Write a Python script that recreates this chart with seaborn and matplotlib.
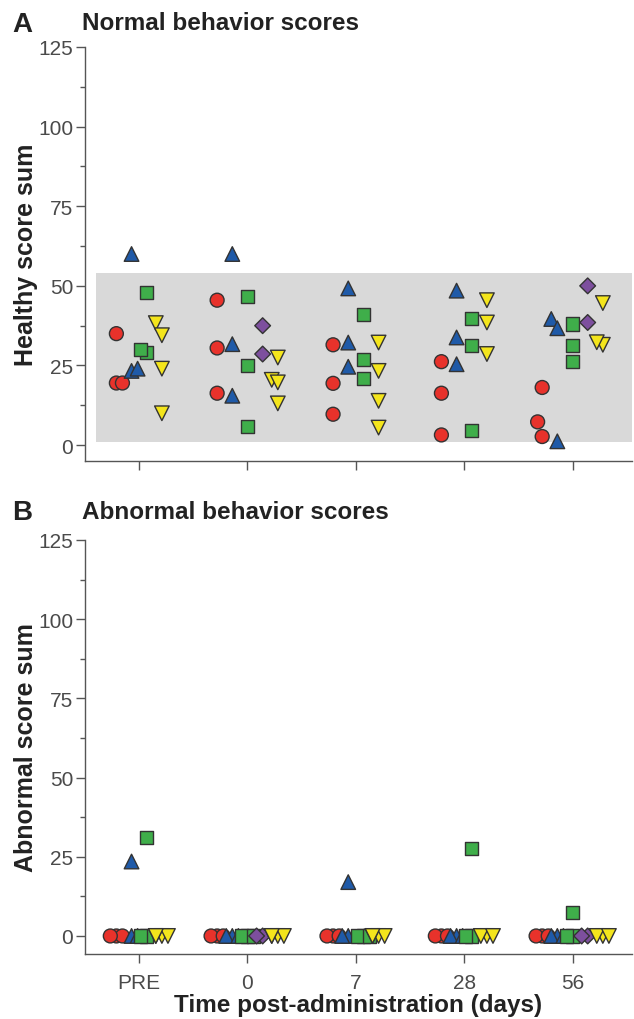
import numpy as np
import pandas as pd
import seaborn as sns
import matplotlib.pyplot as plt
from matplotlib.markers import MarkerStyle
from matplotlib.transforms import Affine2D
from matplotlib.ticker import MultipleLocator

# time points and groups
times = ["PRE", "0", "7", "28", "56"]
groups = ["G1", "G2", "G3", "G4", "G5"]
colors = ["#e8322b", "#1f5aa8", "#3fae4a", "#7d4f9e", "#f4e51c"]
markers = ["o", "^", "s", "D", "v"]
marker_scale = [1.0, 1.05, 0.95, 0.8, 1.05]

# normal behavior scores (per time point)
normal_g1 = [[35, 19.5, 19.5], [45.5, 30.5, 16.3], [31.5, 19.4, 9.7], [26.2, 16.3, 3.2], [18.1, 7.3, 2.7]]
normal_g2 = [[60, 23.3, 24], [60, 31.7, 15.5], [49.2, 32.2, 24.6], [48.5, 33.8, 25.4], [39.6, 36.7, 1.2]]
normal_g3 = [[48, 29, 30], [46.6, 25, 5.9], [41, 26.8, 21], [39.8, 31.2, 4.7], [38, 31.2, 26.2]]
normal_g4 = [[], [37.5, 28.6], [], [], [50, 38.5]]
normal_g5 = [[38.3, 34.5, 24, 10], [27.5, 20.5, 19.7, 13.1], [32.2, 23.3, 13.9, 5.5], [45.5, 38.5, 28.6], [44.6, 31.5, 32.3]]

# abnormal behavior scores
abnormal_g1 = [[0, 0, 0], [0, 0, 0], [0, 0, 0], [0, 0, 0], [0, 0, 0]]
abnormal_g2 = [[23.5, 0, 0], [0, 0, 0], [17, 0, 0], [0, 0, 0], [0, 0, 0]]
abnormal_g3 = [[31, 0, 0], [0, 0, 0], [0, 0, 0], [27.5, 0, 0], [7.5, 0, 0]]
abnormal_g4 = [[], [0, 0], [], [], [0, 0]]
abnormal_g5 = [[0, 0, 0, 0], [0, 0, 0, 0], [0, 0, 0, 0], [0, 0, 0], [0, 0, 0]]

healthy_range = (1, 54)
slot = 0.14


def to_frame(series):
    rows = []
    for ti, t in enumerate(times):
        present = [g for g, s in zip(groups, series) if len(s[ti]) > 0]
        n = len(present)
        for g, s in zip(groups, series):
            if not s[ti]:
                continue
            rank = present.index(g)
            xpos = ti + (rank - (n - 1) / 2) * slot
            for v in s[ti]:
                rows.append({"time": t, "group": g, "xpos": xpos, "score": v})
    return pd.DataFrame(rows)


df_normal = to_frame([normal_g1, normal_g2, normal_g3, normal_g4, normal_g5])
df_abnormal = to_frame([abnormal_g1, abnormal_g2, abnormal_g3, abnormal_g4, abnormal_g5])

sns.set_style("ticks")
plt.rcParams["font.family"] = ["Liberation Sans", "DejaVu Sans"]

fig = plt.figure(figsize=(6.34, 10.2), dpi=100)
ax_a = fig.add_axes([0.134, 0.547, 0.863, 0.406])
ax_b = fig.add_axes([0.134, 0.0637, 0.863, 0.406])

palette = dict(zip(groups, colors))


def marker_path(m, k):
    ms = MarkerStyle(m)
    return ms.get_path().transformed(ms.get_transform() + Affine2D().scale(k))


def draw_panel(ax, df, ylabel, ymin, band=None):
    if band is not None:
        ax.axhspan(band[0], band[1], xmin=0.02, xmax=1, color="#d9d9d9", lw=0, zorder=0)
    sns.swarmplot(data=df, x="xpos", y="score", hue="group", hue_order=groups,
                  palette=palette, native_scale=True, orient="x", size=10,
                  edgecolor="#333333", linewidth=1.0, legend=False,
                  warn_thresh=1, ax=ax)
    # give every group its own symbol
    for coll in ax.collections:
        fc = coll.get_facecolors()
        if len(fc) == 0:
            continue
        for g, c, m, k in zip(groups, colors, markers, marker_scale):
            if np.allclose(fc[0][:3], plt.matplotlib.colors.to_rgb(c), atol=0.01):
                coll.set_paths([marker_path(m, k)])
                coll.set_zorder(3)
    ax.set_xlim(-0.5, 4.55)
    ax.set_ylim(ymin, 125)
    ax.set_yticks([0, 25, 50, 75, 100, 125])
    ax.yaxis.set_minor_locator(MultipleLocator(12.5))
    ax.set_xticks(range(len(times)))
    ax.set_xticklabels(times)
    ax.set_ylabel(ylabel, fontsize=18, fontweight="bold", color="#222222")
    ax.yaxis.set_label_coords(-0.085, 0.5)
    ax.set_xlabel("")
    for side in ["top", "right"]:
        ax.spines[side].set_visible(False)
    for side in ["left", "bottom"]:
        ax.spines[side].set_color("#555555")
        ax.spines[side].set_linewidth(1.0)
    ax.tick_params(axis="both", which="major", length=6.5, width=1, color="#555555",
                   labelsize=15, labelcolor="#4a4a4a", pad=2)
    ax.tick_params(axis="y", which="minor", length=3.5, width=1, color="#555555")
    ax.tick_params(axis="x", which="minor", bottom=False)
    ax.tick_params(axis="x", pad=7)


draw_panel(ax_a, df_normal, "Healthy score sum", -5, band=healthy_range)
draw_panel(ax_b, df_abnormal, "Abnormal score sum", -5.7)
ax_a.set_xticklabels([])
ax_b.set_xlabel("Time post-administration (days)", fontsize=17.5, fontweight="bold",
                color="#222222", labelpad=1)

fig.text(0.019, 0.9755, "A", fontsize=20, fontweight="bold", va="center", color="#222222")
fig.text(0.129, 0.9765, "Normal behavior scores", fontsize=17.5, fontweight="bold", va="center", color="#222222")
fig.text(0.019, 0.497, "B", fontsize=20, fontweight="bold", va="center", color="#222222")
fig.text(0.129, 0.498, "Abnormal behavior scores", fontsize=17.5, fontweight="bold", va="center", color="#222222")

fig.savefig("out.png", dpi=100)
